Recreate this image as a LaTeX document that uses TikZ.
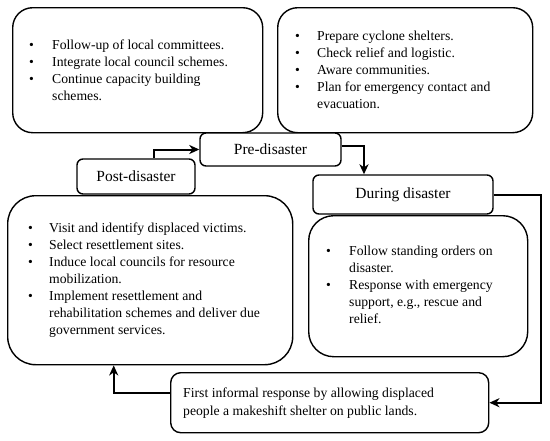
\documentclass[tikz,border=0pt]{standalone}
\usepackage{fontspec}
\setmainfont{Liberation Serif}
\usetikzlibrary{arrows.meta,calc}
\tikzset{
  bigbox/.style={draw, line width=1.4pt, rounded corners=#1, inner sep=0pt, anchor=north west},
  lab/.style={draw, fill=white, line width=1.4pt, rounded corners=6pt, inner sep=0pt,
              font=\fontsize{15.5}{18}\selectfont},
  txt/.style={inner sep=0pt, anchor=north west, font=\fontsize{13.7}{17}\selectfont},
  arr/.style={line width=2pt, -{Stealth[length=10pt,width=9pt,inset=3pt]}}
}
\begin{document}
\begin{tikzpicture}[x=1pt,y=-1pt]
\useasboundingbox (0,0) rectangle (550,440);

% big boxes
\node[bigbox=20pt, minimum width=250pt, minimum height=125pt] (tl) at (12,7) {};
\node[bigbox=20pt, minimum width=255pt, minimum height=125pt] (tr) at (277,7) {};
\node[bigbox=28pt, minimum width=285pt, minimum height=169pt] (postbig) at (7,195) {};
\node[bigbox=25pt, minimum width=219pt, minimum height=141pt] (durbig) at (308,215) {};
\node[bigbox=10pt, minimum width=318pt, minimum height=60pt] (bottom) at (170,372) {};

% label boxes
\node[lab, minimum width=141pt, minimum height=33pt] (pre) at (270.5,149.5) {Pre-disaster};
\node[lab, minimum width=118pt, minimum height=35pt] (post) at (136,176.5) {Post-disaster};
\node[lab, minimum width=180pt, minimum height=39pt] (during) at (403,194.5) {During disaster};

% texts
\node[txt] (tltext) at (29,37) {\begin{tabular}{@{}p{23pt}@{}l@{}}
\textbullet & Follow-up of local committees.\\
\textbullet & Integrate local council schemes.\\
\textbullet & Continue capacity building\\
 & schemes.
\end{tabular}};

\node[txt] (trtext) at (295,28) {\begin{tabular}{@{}p{22pt}@{}l@{}}
\textbullet & Prepare cyclone shelters.\\
\textbullet & Check relief and logistic.\\
\textbullet & Aware communities.\\
\textbullet & Plan for emergency contact and\\
 & evacuation.
\end{tabular}};

\node[txt] (posttext) at (28,220) {\begin{tabular}{@{}p{21pt}@{}l@{}}
\textbullet & Visit and identify displaced victims.\\
\textbullet & Select resettlement sites.\\
\textbullet & Induce local councils for resource\\
 & mobilization.\\
\textbullet & Implement resettlement and\\
 & rehabilitation schemes and deliver due\\
 & government services.
\end{tabular}};

\node[txt] (durtext) at (326,243) {\begin{tabular}{@{}p{23pt}@{}l@{}}
\textbullet & Follow standing orders on\\
 & disaster.\\
\textbullet & Response with emergency\\
 & support, e.g., rescue and\\
 & relief.
\end{tabular}};

\node[txt, font=\fontsize{13.7}{18}\selectfont] (bottext) at (183,385) {\begin{tabular}{@{}l@{}}
First informal response by allowing displaced\\
people a makeshift shelter on public lands.
\end{tabular}};

% connectors
\draw[arr] ([xshift=18pt]post.north) |- (pre.west);
\draw[arr] ([yshift=4pt]pre.east) -| ([xshift=-39pt]during.north);
\draw[arr] (during.east) -- ++(47,0) |- (bottom.east);
\draw[arr] ([yshift=10pt]bottom.west) -| ([xshift=-36.5pt]postbig.south);
\end{tikzpicture}
\end{document}
